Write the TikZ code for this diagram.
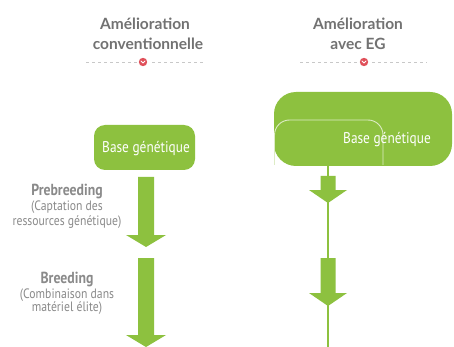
\documentclass[tikz,border=0pt]{standalone}
\usepackage{fontspec}
\setmainfont{PT Sans}
\newfontfamily\condfont[FakeStretch=0.86]{PT Sans}
\newfontfamily\headfont{Lato}
\definecolor{leaf}{HTML}{8DC13F}
\definecolor{headgray}{HTML}{727272}
\definecolor{labgray}{HTML}{8A8A8A}
\definecolor{dotred}{HTML}{E0505A}
\definecolor{dashgray}{HTML}{C8C8C8}
\begin{document}
\begin{tikzpicture}[x=1pt,y=-1pt,
  header/.style={font=\headfont\bfseries\fontsize{15.5}{18}\selectfont, text=headgray, inner sep=0pt, anchor=base},
  boxtext/.style={font=\condfont\fontsize{15.5}{17}\selectfont, text=white, inner sep=0pt},
  steptitle/.style={font=\condfont\bfseries\fontsize{16}{18}\selectfont, text=labgray, inner sep=0pt, anchor=base},
  stepnote/.style={font=\condfont\fontsize{13.6}{15}\selectfont, text=labgray, inner sep=0pt, anchor=base},
  sep/.style={dashgray, line width=0.8pt, dash pattern=on 3pt off 3pt},
  blockarrow/.style={fill=leaf, draw=none},
  thinline/.style={leaf, line width=2pt}]
\useasboundingbox (0,0) rectangle (454,347);
\fill[white] (0,0) rectangle (454,347);

% headers
\node[header] (h1a) at (145,30) {Amélioration};
\node[header] (h1b) at (148,50) {conventionnelle};
\node[header] (h2a) at (358,30) {Amélioration};
\node[header] (h2b) at (358,50) {avec EG};

% separators
\coordinate (s1l) at (86,62); \coordinate (s1r) at (205,62);
\coordinate (s2l) at (300,62); \coordinate (s2r) at (427,62);
\draw[sep] (s1l) -- (s1r);
\draw[sep] (s2l) -- (s2r);
\foreach \c in {143,364}{
  \fill[white] (\c,62) circle (6);
  \fill[dotred] (\c,62) circle (4.2);
  \draw[white, line width=0.9pt, line cap=round, line join=round] (\c-2,61) -- (\c,63) -- (\c+2,61);
}

% left base box
\node[fill=leaf, rounded corners=11pt, minimum width=101pt, minimum height=45pt, inner sep=0pt] (lbox) at (144.5,147.5) {};
\node[boxtext] (ltext) at (146,149) {Base génétique};

% right base box
\fill[leaf, rounded corners=22pt] (274,92) rectangle (452,166);
\coordinate (rbox) at (328,166);
\draw[white!70!leaf, line width=0.9pt, rounded corners=15pt] (274.5,165) -- (274.5,120) -- (383,120) -- (383,165);
\node[boxtext] (rtext) at (387,140) {Base génétique};

% left arrows
\fill[blockarrow] (138,177) -- (154,177) -- (154,235) -- (166,235) -- (146,247) -- (126,235) -- (138,235) -- cycle;
\fill[blockarrow] (138,258) -- (154,258) -- (154,335) -- (166,335) -- (146,347) -- (126,335) -- (138,335) -- cycle;

% right line and arrows
\coordinate (rend) at (328,347);
\draw[thinline] (rbox) -- (rend);
\fill[blockarrow] (320.5,176) -- (335.5,176) -- (335.5,190) -- (347,190) -- (328,203) -- (309,190) -- (320.5,190) -- cycle;
\fill[blockarrow] (320.5,258) -- (335.5,258) -- (335.5,293) -- (347,293) -- (328,306) -- (309,293) -- (320.5,293) -- cycle;

% left labels
\node[steptitle] (pre) at (67,195) {Prebreeding};
\node[stepnote] (pre1) at (67,210) {(Captation des};
\node[stepnote] (pre2) at (67,225) {ressources génétique)};
\node[steptitle] (br) at (67,283) {Breeding};
\node[stepnote] (br1) at (67,298) {(Combinaison dans};
\node[stepnote] (br2) at (67,311) {matériel élite)};
\end{tikzpicture}
\end{document}
